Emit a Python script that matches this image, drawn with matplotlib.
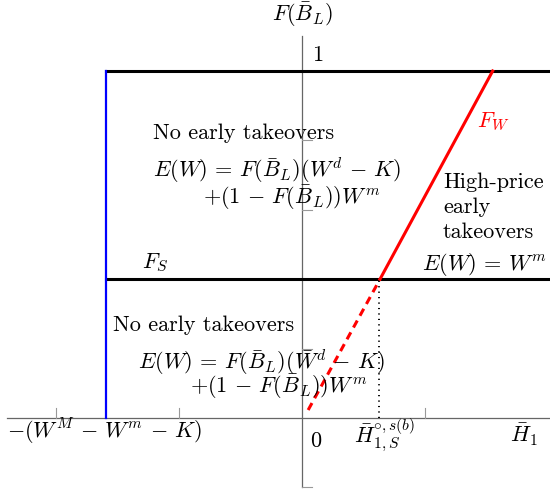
import numpy as np
import matplotlib
matplotlib.use('Agg')
import matplotlib.pyplot as plt

plt.rcParams['mathtext.fontset'] = 'cm'
plt.rcParams['font.family'] = ['cmr10', 'DejaVu Serif']
plt.rcParams['axes.unicode_minus'] = False

# schematic values (x in tick units, y = F(B_L))
x_left_bound = -1.59          # -(W^M - W^m - K)
x_axis_range = [-2.40, 2.02]
y_axis_range = [-0.2, 1.1]
fs_level = 0.40
top_level = 1.0
fw_solid_x = [0.634, 1.55]
fw_solid_y = [0.40, 1.0]
fw_dash_x = [0.05, 0.634]
fw_dash_y = [0.023, 0.40]
h_star = 0.626
x_ticks = [-2, -1, 1]
y_ticks = [-0.2, 0.2, 0.4, 0.6, 0.8]

fig = plt.figure(figsize=(5.5, 4.9), dpi=100)
ax = fig.add_axes([0, 0, 1, 1])
ax.set_xlim(-2.455, 2.016)
ax.set_ylim(-0.2075, 1.2046)
ax.axis('off')

axc = '#666666'
# axes
ax.plot(x_axis_range, [0, 0], color=axc, lw=0.9, zorder=1)
ax.plot([0, 0], y_axis_range, color=axc, lw=0.9, zorder=1)
for t in x_ticks:
    ax.plot([t, t], [0, 0.029], color='#999999', lw=0.8, zorder=1)
for t in y_ticks:
    ax.plot([0, 0.08], [t, t], color='#999999', lw=0.8, zorder=1)

# region boundaries
ax.plot([x_left_bound, 2.1], [top_level, top_level], color='black', lw=2.2, zorder=3)
ax.plot([x_left_bound, 2.1], [fs_level, fs_level], color='black', lw=2.2, zorder=3)
ax.plot([x_left_bound, x_left_bound], [0, top_level], color='blue', lw=1.6, zorder=3)

ax.plot(fw_solid_x, fw_solid_y, color='red', lw=2.2, zorder=4)
ax.plot(fw_dash_x, fw_dash_y, color='red', lw=2.2, ls=(0, (2.6, 1.8)), zorder=4)
ax.plot([h_star, h_star], [0, fs_level], color='black', lw=1.4, ls=(0, (0.6, 2.2)), zorder=2)

fs = 16
kw = dict(fontsize=fs, va='center', ha='left', zorder=5)
ax.text(0.008, 1.161, r'$F(\bar{B}_L)$', fontsize=fs, ha='center', va='center')
ax.text(0.081, 1.046, '1', **kw)

ax.text(-1.211, 0.821, 'No early takeovers', **kw)
ax.text(-1.211, 0.715, r'$E(W)\,=\,F(\bar{B}_L)(W^d\,-\,K)$', **kw)
ax.text(-0.805, 0.634, r'$+(1\,-\,F(\bar{B}_L))W^m$', **kw)

ax.text(1.423, 0.853, r'$F_W$', color='red', **kw)
ax.text(1.146, 0.680, 'High-price', **kw)
ax.text(1.146, 0.608, 'early', **kw)
ax.text(1.146, 0.536, 'takeovers', **kw)
ax.text(0.976, 0.441, r'$E(W)\,=\,W^m$', **kw)
ax.text(-1.30, 0.447, r'$F_S$', **kw)

ax.text(-1.537, 0.268, 'No early takeovers', **kw)
ax.text(-1.333, 0.161, r'$E(W)\,=\,F(\bar{B}_L)(\bar{W}^d\,-\,K)$', **kw)
ax.text(-0.911, 0.089, r'$+(1\,-\,F(\bar{B}_L))W^m$', **kw)

ax.text(-2.40, -0.040, r'$-(W^M\,-\,W^m\,-\,K)$', **kw)
ax.text(0.065, -0.066, r'$0$', **kw)
ax.text(0.423, -0.049, r'$\bar{H}^{\circ,s(b)}_{1,S}$', **kw)
ax.text(1.69, -0.049, r'$\bar{H}_1$', **kw)

fig.savefig('out.png', dpi=100)
